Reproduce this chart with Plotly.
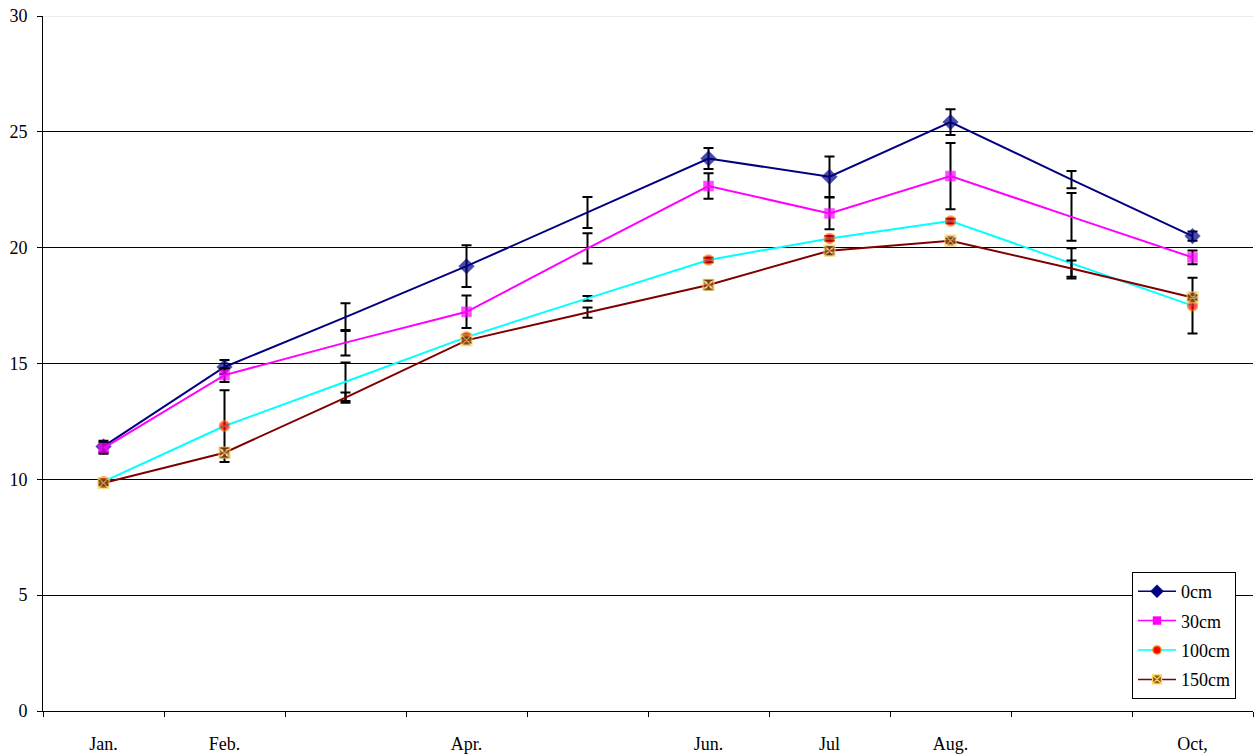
import plotly.graph_objects as go

# Monthly soil temperature at four depths, with standard-deviation error bars
months = ["Jan.", "Feb.", "Mar.", "Apr.", "May", "Jun.", "Jul", "Aug.", "Sep.", "Oct,"]
tick_labels = ["Jan.", "Feb.", "", "Apr.", "", "Jun.", "Jul", "Aug.", "", "Oct,"]
# months that carry a marker (the others are only joined by the line)
marked = [True, True, False, True, False, True, True, True, False, True]

t_0cm = [11.42, 14.85, 17.0, 19.2, 21.52, 23.85, 23.06, 25.42, 22.94, 20.5]
e_0cm = [0.25, 0.3, 0.6, 0.9, 0.67, 0.45, 0.87, 0.56, 0.37, 0.2]

t_30cm = [11.35, 14.5, 15.9, 17.23, 19.97, 22.66, 21.48, 23.09, 21.33, 19.58]
e_30cm = [0.25, 0.3, 0.55, 0.7, 0.65, 0.55, 0.69, 1.43, 1.03, 0.3]

t_100cm = [9.9, 12.3, 14.21, 16.14, 17.81, 19.47, 20.4, 21.15, 19.32, 17.5]
e_100cm = [0.1, 1.55, 0.83, 0.1, 0.1, 0.1, 0.1, 0.1, 0.65, 1.2]

t_150cm = [9.84, 11.15, 13.53, 16.0, 17.2, 18.39, 19.87, 20.3, 19.1, 17.85]
e_150cm = [0.1, 0.2, 0.22, 0.1, 0.22, 0.2, 0.15, 0.1, 0.35, 0.1]

y_ticks = [0, 5, 10, 15, 20, 25, 30]

FONT = "Liberation Serif"
xs = list(range(len(months)))

# name, values, errors, line colour, symbol, size, fill, edge colour, edge width
series = [
    ("0cm", t_0cm, e_0cm, "#000080", "diamond", 12, "#000080", "#000080", 0.5),
    ("30cm", t_30cm, e_30cm, "#FF00FF", "square", 10, "#FF00FF", "#FF00FF", 0.5),
    ("100cm", t_100cm, e_100cm, "#00FFFF", "circle", 10, "#FF0000", "#FF7700", 1.5),
    ("150cm", t_150cm, e_150cm, "#800000", "square-x", 11, "#A0521E", "#F5D860", 1.3),
]

fig = go.Figure()
for name, vals, errs, color, symbol, size, fill, edge, edge_w in series:
    marker = dict(symbol=symbol, color=fill, line=dict(color=edge, width=edge_w))
    fig.add_trace(go.Scatter(
        x=xs, y=vals, name=name, mode="lines+markers", showlegend=False,
        legendgroup=name,
        line=dict(color=color, width=2),
        marker=dict(marker, size=[size if m else 0 for m in marked]),
        error_y=dict(type="data", array=errs, visible=True,
                     color="black", thickness=2, width=5),
    ))
    # legend entry with a thin sample line and a single marker
    fig.add_trace(go.Scatter(
        x=[None], y=[None], name=name, mode="lines+markers", legendgroup=name,
        line=dict(color=color, width=1.5),
        marker=dict(marker, size=size - 2),
    ))

# invisible trace carrying the month labels on a second x axis
fig.add_trace(go.Scatter(x=xs, y=[None] * len(xs), xaxis="x2",
                         showlegend=False, hoverinfo="skip"))

# faint top border line at the maximum of the scale
fig.add_shape(type="line", xref="paper", x0=0, x1=1, yref="y",
              y0=y_ticks[-1], y1=y_ticks[-1],
              line=dict(color="#d8d8d8", width=1), layer="below")

boundaries = [i - 0.5 for i in range(len(months) + 1)]

fig.update_layout(
    width=1260, height=756,
    margin=dict(l=43, r=7, t=16, b=45),
    paper_bgcolor="white", plot_bgcolor="white",
    font=dict(family=FONT, size=18, color="black"),
    showlegend=True,
    legend=dict(x=0.9, y=0.2, xanchor="left", yanchor="top",
                bgcolor="white", bordercolor="black", borderwidth=1,
                font=dict(family=FONT, size=18), tracegroupgap=3,
                itemwidth=38),
    xaxis=dict(range=[-0.5, len(months) - 0.5], tickmode="array",
               tickvals=boundaries, ticktext=[""] * len(boundaries),
               ticks="outside", ticklen=5, tickcolor="black",
               showline=True, linecolor="black", linewidth=1,
               showgrid=False, zeroline=False, automargin=False),
    xaxis2=dict(overlaying="x", matches="x", side="bottom",
                tickmode="array", tickvals=xs, ticktext=tick_labels,
                ticks="", showline=False, showgrid=False, zeroline=False,
                ticklabelstandoff=20, automargin=False,
                tickfont=dict(family=FONT, size=18)),
    yaxis=dict(range=[0, 30], tickmode="array", tickvals=y_ticks,
               ticks="outside", ticklen=5, tickcolor="black",
               showline=True, linecolor="black", linewidth=1,
               showgrid=True, gridcolor="black", gridwidth=1,
               zeroline=False, automargin=False, ticklabelstandoff=6,
               tickfont=dict(family=FONT, size=18)),
)

fig.write_html("out.html")
